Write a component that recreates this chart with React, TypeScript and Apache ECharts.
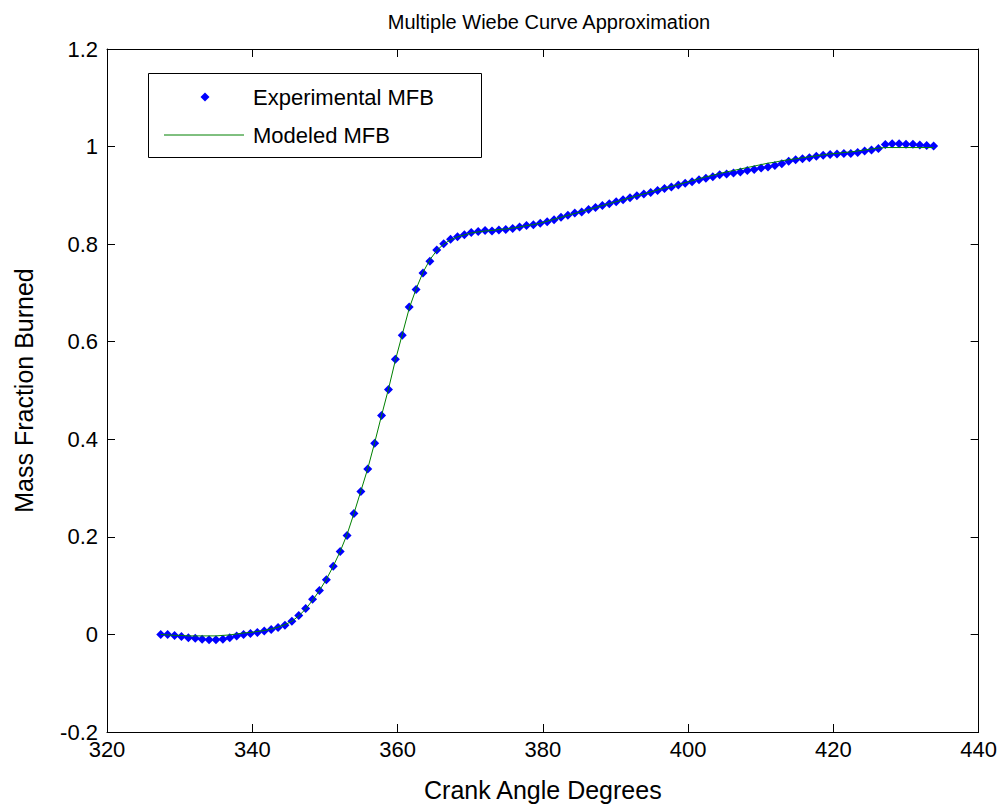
import React, { useEffect, useRef } from "react";
import * as echarts from "echarts";

const TITLE = "Multiple Wiebe Curve Approximation";
const X_NAME = "Crank Angle Degrees";
const Y_NAME = "Mass Fraction Burned";
const LEGEND_LABELS = ["Experimental MFB", "Modeled MFB"];

const crankAngle = [
  327.4, 328.35, 329.3, 330.25, 331.2, 332.15, 333.1, 334.05, 335.0, 335.95,
  336.9, 337.85, 338.8, 339.75, 340.7, 341.65, 342.6, 343.55, 344.5, 345.45,
  346.4, 347.35, 348.3, 349.25, 350.2, 351.15, 352.1, 353.05, 354.0, 354.95,
  355.9, 356.85, 357.8, 358.75, 359.7, 360.65, 361.6, 362.55, 363.5, 364.45,
  365.4, 366.35, 367.3, 368.25, 369.2, 370.15, 371.1, 372.05, 373.0, 373.95,
  374.9, 375.85, 376.8, 377.75, 378.7, 379.65, 380.6, 381.55, 382.5, 383.45,
  384.4, 385.35, 386.3, 387.25, 388.2, 389.15, 390.1, 391.05, 392.0, 392.95,
  393.9, 394.85, 395.8, 396.75, 397.7, 398.65, 399.6, 400.55, 401.5, 402.45,
  403.4, 404.35, 405.3, 406.25, 407.2, 408.15, 409.1, 410.05, 411.0, 411.95,
  412.9, 413.85, 414.8, 415.75, 416.7, 417.65, 418.6, 419.55, 420.5, 421.45,
  422.4, 423.35, 424.3, 425.25, 426.2, 427.15, 428.1, 429.05, 430.0, 430.95,
  431.9, 432.85, 433.8,
];

const experimentalMFB = [
  0.0, 0.0, -0.002, -0.004, -0.007, -0.008, -0.01, -0.011, -0.011, -0.01,
  -0.007, -0.003, 0.0, 0.002, 0.004, 0.007, 0.01, 0.014, 0.019, 0.027,
  0.039, 0.053, 0.072, 0.09, 0.112, 0.14, 0.17, 0.203, 0.248, 0.293,
  0.339, 0.392, 0.449, 0.502, 0.564, 0.613, 0.671, 0.707, 0.741, 0.765,
  0.788, 0.801, 0.81, 0.815, 0.819, 0.824, 0.826, 0.828, 0.827, 0.829,
  0.83, 0.832, 0.835, 0.838, 0.84, 0.843, 0.846, 0.85, 0.855, 0.859,
  0.864, 0.866, 0.871, 0.875, 0.879, 0.883, 0.887, 0.891, 0.895, 0.899,
  0.903, 0.906, 0.91, 0.914, 0.917, 0.921, 0.925, 0.928, 0.932, 0.935,
  0.938, 0.942, 0.944, 0.946, 0.948, 0.951, 0.953, 0.956, 0.958, 0.961,
  0.965, 0.97, 0.973, 0.975, 0.977, 0.98, 0.982, 0.984, 0.985, 0.986,
  0.986, 0.988, 0.991, 0.993, 0.996, 1.004, 1.006, 1.006, 1.005, 1.005,
  1.003, 1.002, 1.001,
];

const modeledMFB = [
  0.0, -0.001, -0.002, -0.002, -0.003, -0.003, -0.003, -0.003, -0.003, -0.002,
  -0.001, 0.001, 0.003, 0.004, 0.006, 0.008, 0.011, 0.015, 0.02, 0.027,
  0.038, 0.052, 0.07, 0.09, 0.113, 0.14, 0.17, 0.205, 0.248, 0.294,
  0.34, 0.393, 0.449, 0.503, 0.562, 0.615, 0.668, 0.708, 0.742, 0.768,
  0.787, 0.8, 0.809, 0.815, 0.819, 0.823, 0.825, 0.827, 0.828, 0.83,
  0.831, 0.833, 0.835, 0.838, 0.84, 0.843, 0.847, 0.851, 0.855, 0.859,
  0.863, 0.867, 0.871, 0.875, 0.879, 0.883, 0.887, 0.891, 0.895, 0.899,
  0.903, 0.907, 0.911, 0.915, 0.918, 0.922, 0.926, 0.93, 0.934, 0.938,
  0.941, 0.945, 0.948, 0.951, 0.954, 0.957, 0.96, 0.963, 0.966, 0.968,
  0.971, 0.973, 0.975, 0.977, 0.979, 0.981, 0.983, 0.985, 0.986, 0.988,
  0.989, 0.991, 0.993, 0.995, 0.997, 0.998, 0.998, 0.998, 0.998, 0.998,
  0.998, 0.998, 0.998,
];

const X_MIN = 320;
const X_MAX = 440;
const X_STEP = 20;
const Y_MIN = -0.2;
const Y_MAX = 1.2;
const Y_STEP = 0.2;

const FONT = "'Liberation Sans', Arial, sans-serif";

export default function App() {
  const ref = useRef<HTMLDivElement>(null);

  useEffect(() => {
    if (!ref.current) return;
    const chart = echarts.init(ref.current, null, { renderer: "svg" });

    const expData = crankAngle.map((x, i) => [x, experimentalMFB[i]]);
    const modData = crankAngle.map((x, i) => [x, modeledMFB[i]]);

    const axisLine = { show: true, onZero: false, lineStyle: { color: "#000", width: 1 } };
    const axisTick = { show: true, inside: true, length: 8, lineStyle: { color: "#000" } };
    const yFmt = (v: number) => String(parseFloat(v.toFixed(1)));

    chart.setOption({
      animation: false,
      backgroundColor: "#fff",
      title: {
        text: TITLE,
        left: 544,
        textAlign: "center",
        top: 7,
        textStyle: { fontFamily: FONT, fontSize: 20, fontWeight: "normal", color: "#000" },
      },
      grid: { left: 107, right: 19, top: 49, bottom: 77, containLabel: false },
      xAxis: [
        {
          type: "value",
          min: X_MIN,
          max: X_MAX,
          interval: X_STEP,
          position: "bottom",
          name: X_NAME,
          nameLocation: "middle",
          nameGap: 45,
          nameTextStyle: { fontFamily: FONT, fontSize: 25, color: "#000" },
          axisLine,
          axisTick,
          axisLabel: { fontFamily: FONT, fontSize: 22, color: "#000", margin: 6 },
          splitLine: { show: false },
        },
        {
          type: "value",
          min: X_MIN,
          max: X_MAX,
          interval: X_STEP,
          position: "top",
          axisLine,
          axisTick,
          axisLabel: { show: false },
          splitLine: { show: false },
        },
      ],
      yAxis: [
        {
          type: "value",
          min: Y_MIN,
          max: Y_MAX,
          interval: Y_STEP,
          position: "left",
          name: Y_NAME,
          nameLocation: "middle",
          nameGap: 71,
          nameTextStyle: { fontFamily: FONT, fontSize: 25, color: "#000" },
          axisLine,
          axisTick,
          axisLabel: { fontFamily: FONT, fontSize: 22, color: "#000", margin: 9, formatter: yFmt },
          splitLine: { show: false },
        },
        {
          type: "value",
          min: Y_MIN,
          max: Y_MAX,
          interval: Y_STEP,
          position: "right",
          axisLine,
          axisTick,
          axisLabel: { show: false },
          splitLine: { show: false },
        },
      ],
      series: [
        {
          name: LEGEND_LABELS[0],
          type: "scatter",
          data: expData,
          symbol: "diamond",
          symbolSize: 9,
          itemStyle: { color: "#0000ff", opacity: 1 },
          z: 2,
        },
        {
          name: LEGEND_LABELS[1],
          type: "line",
          data: modData,
          showSymbol: false,
          symbol: "none",
          lineStyle: { color: "#008000", width: 1 },
          z: 3,
        },
      ],
      graphic: [
        {
          type: "rect",
          shape: { x: 148.5, y: 73.5, width: 333, height: 84 },
          style: { fill: "#fff", stroke: "#000", lineWidth: 1 },
          z: 10,
        },
        {
          type: "polygon",
          shape: { points: [[205, 92.5], [209.5, 97], [205, 101.5], [200.5, 97]] },
          style: { fill: "#0000ff" },
          z: 11,
        },
        {
          type: "line",
          shape: { x1: 164, y1: 135, x2: 244, y2: 135 },
          style: { stroke: "#008000", lineWidth: 1 },
          z: 11,
        },
        {
          type: "text",
          x: 253,
          y: 97,
          style: {
            text: LEGEND_LABELS[0],
            fontFamily: FONT,
            fontSize: 22,
            fill: "#000",
            verticalAlign: "middle",
          },
          z: 11,
        },
        {
          type: "text",
          x: 253,
          y: 135,
          style: {
            text: LEGEND_LABELS[1],
            fontFamily: FONT,
            fontSize: 22,
            fill: "#000",
            verticalAlign: "middle",
          },
          z: 11,
        },
      ],
    });

    return () => chart.dispose();
  }, []);

  return <div ref={ref} style={{ width: 1000, height: 809, position: "absolute", left: 0, top: 0 }} />;
}
